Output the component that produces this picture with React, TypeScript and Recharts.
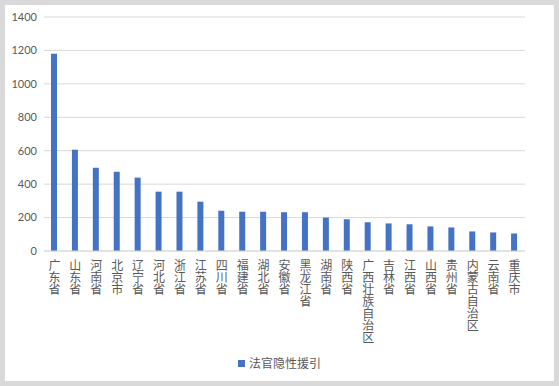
import React from "react";
import { Bar, BarChart, CartesianGrid, XAxis, YAxis, Legend } from "recharts";

const provinces = [
  "广东省", "山东省", "河南省", "北京市", "辽宁省", "河北省", "浙江省", "江苏省",
  "四川省", "福建省", "湖北省", "安徽省", "黑龙江省", "湖南省", "陕西省",
  "广西壮族自治区", "吉林省", "江西省", "山西省", "贵州省", "内蒙古自治区",
  "云南省", "重庆市"
];

const implicitCitations = [
  1180, 606, 498, 474, 439, 355, 355, 295, 241, 235, 235, 232, 232, 200, 190,
  172, 165, 160, 147, 141, 117, 111, 105
];

const yTicks = [0, 200, 400, 600, 800, 1000, 1200, 1400];

const seriesName = "法官隐性援引";

const data = provinces.map((name, i) => ({ name, value: implicitCitations[i] }));

const cjkFont = "'Noto Sans CJK SC', sans-serif";

function VerticalTick(props: any) {
  const { x, y, payload } = props;
  const chars = String(payload.value).split("");
  return (
    <text
      x={x}
      y={y}
      textAnchor="middle"
      fill="#595959"
      fontSize={12}
      fontFamily={cjkFont}
    >
      {chars.map((c, i) => (
        <tspan key={i} x={x} dy={i === 0 ? 18.5 : 12}>
          {c}
        </tspan>
      ))}
    </text>
  );
}

function LegendBox() {
  return (
    <div
      style={{
        height: 30,
        width: 549,
        display: "flex",
        justifyContent: "center",
        alignItems: "flex-start",
        paddingTop: 5,
        boxSizing: "border-box",
        fontFamily: cjkFont,
        fontSize: 12,
        color: "#595959",
        lineHeight: "14px"
      }}
    >
      <span
        style={{
          display: "inline-block",
          width: 7,
          height: 7,
          background: "#4472C4",
          marginRight: 4,
          marginTop: 4
        }}
      />
      <span>{seriesName}</span>
    </div>
  );
}

export default function App() {
  return (
    <div
      style={{
        position: "absolute",
        left: 0,
        top: 0,
        width: 559,
        height: 386,
        background: "#d9d9d9"
      }}
    >
      <div
        style={{
          position: "absolute",
          left: 5,
          top: 5,
          width: 549,
          height: 376,
          background: "#ffffff"
        }}
      >
        <BarChart
          width={549}
          height={376}
          data={data}
          margin={{ top: 12, right: 29, left: 0, bottom: 0 }}
        >
          <CartesianGrid vertical={false} stroke="#d9d9d9" />
          <XAxis
            dataKey="name"
            interval={0}
            height={100}
            tickLine={false}
            tickSize={0}
            tickMargin={0}
            stroke="#d9d9d9"
            tick={<VerticalTick />}
          />
          <YAxis
            width={39}
            domain={[0, 1400]}
            ticks={yTicks}
            axisLine={false}
            tickLine={false}
            tickSize={5}
            tickMargin={2}
            tick={{ fill: "#595959", fontSize: 11, fontFamily: "Lato, sans-serif" }}
          />
          <Legend
            verticalAlign="bottom"
            width={549}
            wrapperStyle={{ left: 0 }}
            content={() => <LegendBox />}
          />
          <Bar
            dataKey="value"
            name={seriesName}
            fill="#4472C4"
            barSize={6}
            isAnimationActive={false}
          />
        </BarChart>
      </div>
    </div>
  );
}
